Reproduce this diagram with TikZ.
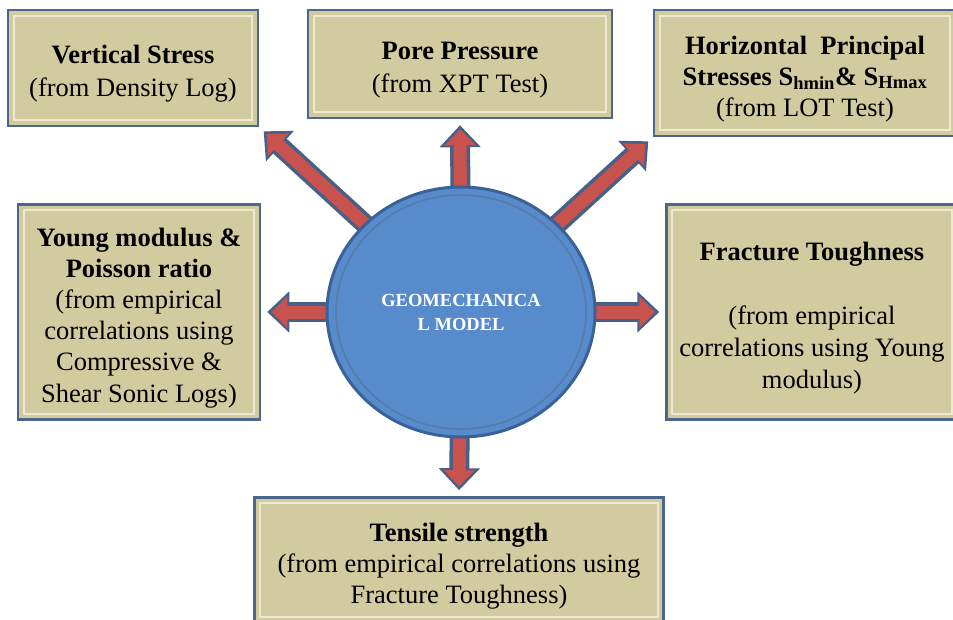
\documentclass[tikz,border=0pt]{standalone}
\usepackage{fontspec}
\setmainfont{Liberation Serif}
\usetikzlibrary{arrows.meta,shapes.geometric,backgrounds}
\definecolor{boxfill}{RGB}{211,203,160}
\definecolor{boxedge}{RGB}{74,102,140}
\definecolor{boxlite}{RGB}{238,233,208}
\definecolor{geofill}{RGB}{88,139,204}
\definecolor{georing}{RGB}{58,98,150}
\definecolor{arrred}{RGB}{200,82,78}
\definecolor{arredge}{RGB}{72,96,135}
\newcommand\topgap{\rule{0pt}{30pt}}

\begin{document}
\begin{tikzpicture}[x=1pt,y=-1pt,
    infobox/.style={draw=boxedge,line width=2.5pt,fill=boxfill,align=center,inner sep=0pt,
        font=\fontsize{26.5}{33}\selectfont},
    bevel/.style={draw=boxlite,line width=1.6pt},
    arrout/.style={draw=arredge,line width=20pt,-{Triangle[length=22pt,width=40pt]},shorten >=6pt},
    arrin/.style={draw=arrred,line width=13pt,-{Triangle[length=16pt,width=30pt]},shorten >=10pt}]
    %%%%% START %%%%%

    \useasboundingbox (0,0) rectangle (953,619);

    % the six boxes
    \node[infobox,minimum width=250pt,minimum height=116pt] (vs) at (133,68)
        {\topgap\textbf{Vertical Stress}\\(from Density Log)};
    \node[infobox,minimum width=304pt,minimum height=108pt] (pp) at (460,64)
        {\topgap\textbf{Pore Pressure}\\(from XPT Test)};
    \node[infobox,minimum width=302pt,minimum height=126pt,font=\fontsize{26.5}{31}\selectfont] (hs) at (805,73)
        {\topgap\textbf{Horizontal\ \ Principal}\\\textbf{Stresses S\textsubscript{hmin}\& S\textsubscript{Hmax}}\\(from LOT Test)};
    \node[infobox,minimum width=242pt,minimum height=215pt,font=\fontsize{26.5}{31.2}\selectfont] (ym) at (139,312)
        {\topgap\textbf{Young modulus \&}\\\textbf{Poisson ratio}\\(from empirical\\correlations using\\Compressive \&\\Shear Sonic Logs)};
    \node[infobox,minimum width=291pt,minimum height=215pt,font=\fontsize{26.5}{32}\selectfont] (ft) at (812,312)
        {\topgap\textbf{Fracture Toughness}\\[32pt](from empirical\\correlations using Young\\modulus)};
    \node[infobox,minimum width=409pt,minimum height=125pt,font=\fontsize{26.5}{31}\selectfont] (ts) at (459,560)
        {\topgap\textbf{Tensile strength}\\(from empirical correlations using\\Fracture Toughness)};

    \foreach \n in {vs,pp,hs,ym,ft,ts}
        \draw[bevel] ([shift={(7,7)}]\n.north west) rectangle ([shift={(-7,-7)}]\n.south east);

    % model in the middle
    \node[ellipse,draw=georing,line width=3pt,fill=geofill,minimum width=268pt,minimum height=250pt,
        inner sep=0pt,align=center,text=white,font=\fontsize{18.5}{24}\selectfont\bfseries] (geo) at (461,312)
        {GEOMECHANICA\\L MODEL};
    \draw[georing!85,line width=1.5pt] (geo.center) ellipse [x radius=125, y radius=117];

    % arrows out of the model
    \begin{scope}[on background layer]
        \foreach \b in {vs.south east,pp.south,hs.south west,ym.east,ft.west,ts.north} {
            \draw[arrout] (geo.center) -- (\b);
            \draw[arrin] (geo.center) -- (\b);
        }
    \end{scope}

    %%%%% END %%%%%
\end{tikzpicture}
\end{document}
